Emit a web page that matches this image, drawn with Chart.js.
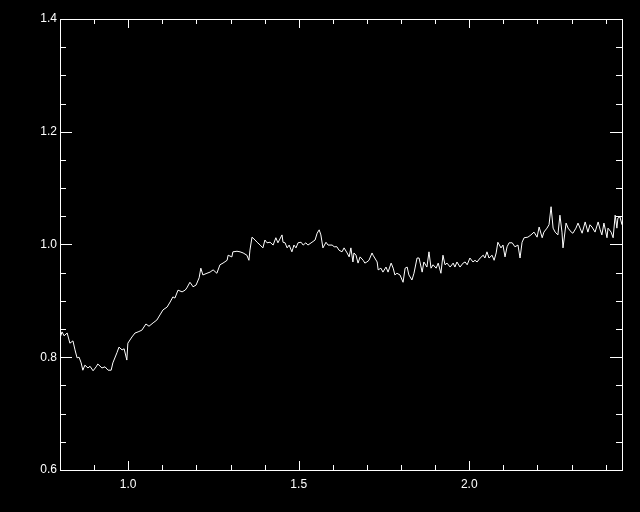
<!DOCTYPE html>
<html>
<head>
<meta charset="utf-8">
<script src="https://cdn.jsdelivr.net/npm/chart.js@4/dist/chart.umd.min.js"></script>
<style>
  html, body { margin: 0; padding: 0; background: #000; }
  canvas { display: block; background: #000; }
</style>
</head>
<body>
<canvas id="chart" width="640" height="512"></canvas>
<script>
// spectrum
const wavelength = [
  0.800, 0.806, 0.812, 0.821, 0.829, 0.838, 0.844, 0.850, 0.856, 0.862,
  0.867, 0.873, 0.882, 0.888, 0.897, 0.906, 0.911, 0.923, 0.932, 0.941,
  0.950, 0.955, 0.967, 0.973, 0.982, 0.988, 0.996, 0.999, 1.011, 1.020,
  1.029, 1.040, 1.052, 1.061, 1.073, 1.084, 1.093, 1.102, 1.114, 1.123,
  1.131, 1.137, 1.146, 1.158, 1.167, 1.172, 1.181, 1.187, 1.190, 1.199,
  1.208, 1.213, 1.219, 1.231, 1.240, 1.249, 1.260, 1.269, 1.278, 1.290,
  1.293, 1.304, 1.307, 1.319, 1.328, 1.337, 1.348, 1.354, 1.357, 1.363,
  1.372, 1.378, 1.387, 1.395, 1.401, 1.407, 1.416, 1.425, 1.433, 1.439,
  1.451, 1.454, 1.460, 1.466,
  1.472, 1.480, 1.486, 1.492, 1.498, 1.507, 1.513, 1.521, 1.527, 1.539,
  1.548, 1.554, 1.560, 1.565, 1.571, 1.580, 1.586, 1.598, 1.604, 1.612,
  1.618, 1.627, 1.633, 1.642, 1.648, 1.653, 1.659, 1.662, 1.668, 1.674,
  1.680, 1.689, 1.694, 1.700, 1.706, 1.715, 1.718, 1.730, 1.733, 1.741,
  1.747, 1.756, 1.762, 1.771, 1.777, 1.782, 1.788, 1.797,
  1.806, 1.812, 1.818, 1.823, 1.832, 1.838, 1.847, 1.853, 1.862, 1.867,
  1.876, 1.882, 1.888, 1.894, 1.903, 1.909, 1.917, 1.923, 1.929, 1.935,
  1.944, 1.953, 1.958, 1.964, 1.973, 1.982, 1.988, 1.994, 2.002, 2.011,
  2.017, 2.023, 2.032, 2.041, 2.046, 2.052, 2.058, 2.067, 2.073, 2.079,
  2.084, 2.093, 2.099, 2.105, 2.111,
  2.117, 2.126, 2.134, 2.143, 2.149, 2.155, 2.161, 2.172, 2.181, 2.190,
  2.199, 2.205, 2.214, 2.219, 2.228, 2.234, 2.240, 2.246, 2.252, 2.260,
  2.266, 2.272, 2.275, 2.284, 2.290, 2.299, 2.304, 2.313, 2.319, 2.325,
  2.331, 2.340, 2.348, 2.354, 2.360, 2.369, 2.378, 2.384, 2.389, 2.395,
  2.404, 2.407, 2.416, 2.422, 2.428, 2.433, 2.436, 2.442, 2.448, 2.454
];

const flux = [
  0.834, 0.845, 0.838, 0.843, 0.825, 0.829, 0.813, 0.799, 0.800, 0.790,
  0.777, 0.786, 0.781, 0.784, 0.776, 0.783, 0.788, 0.781, 0.783, 0.777,
  0.777, 0.790, 0.808, 0.818, 0.813, 0.815, 0.795, 0.825, 0.836, 0.843,
  0.845, 0.848, 0.859, 0.855, 0.861, 0.866, 0.875, 0.884, 0.889, 0.898,
  0.907, 0.905, 0.919, 0.916, 0.919, 0.923, 0.933, 0.928, 0.925, 0.928,
  0.941, 0.958, 0.946, 0.949, 0.951, 0.955, 0.949, 0.964, 0.967, 0.972,
  0.981, 0.978, 0.987, 0.988, 0.987, 0.985, 0.981, 0.972, 0.990, 1.013,
  1.008, 1.004, 0.999, 0.994, 1.008, 1.003, 1.004, 0.999, 1.012, 1.003,
  1.017, 1.004, 1.003, 0.994,
  0.999, 0.987, 0.999, 0.994, 1.003, 1.004, 0.999, 1.003, 0.999, 1.004,
  1.008, 1.020, 1.026, 1.017, 0.994, 1.004, 0.999, 0.999, 0.996, 0.996,
  0.990, 0.987, 0.994, 0.985, 0.978, 0.994, 0.969, 0.985, 0.981, 0.967,
  0.978, 0.972, 0.967, 0.969, 0.972, 0.985, 0.981, 0.969, 0.955, 0.958,
  0.951, 0.960, 0.951, 0.967, 0.958, 0.946, 0.949, 0.946,
  0.933, 0.958, 0.960, 0.946, 0.937, 0.949, 0.976, 0.976, 0.951, 0.969,
  0.960, 0.987, 0.958, 0.964, 0.958, 0.967, 0.949, 0.981, 0.964, 0.967,
  0.960, 0.967, 0.960, 0.969, 0.960, 0.967, 0.969, 0.964, 0.976, 0.969,
  0.972, 0.969, 0.976, 0.981, 0.976, 0.987, 0.976, 0.981, 0.972, 0.985,
  1.004, 0.994, 0.999, 0.978, 0.996,
  1.003, 1.003, 0.996, 0.999, 0.976, 1.004, 1.012, 1.013, 1.017, 1.022,
  1.013, 1.031, 1.012, 1.022, 1.029, 1.035, 1.067, 1.029, 1.022, 1.017,
  1.052, 1.022, 0.994, 1.038, 1.029, 1.022, 1.020, 1.029, 1.038, 1.029,
  1.020, 1.040, 1.022, 1.035, 1.031, 1.022, 1.040, 1.026, 1.017, 1.038,
  1.012, 1.029, 1.022, 1.012, 1.052, 1.029, 1.047, 1.049, 1.035, 1.047
];

const xTicks = [1.0, 1.5, 2.0];
const yTicks = [0.6, 0.8, 1.0, 1.2, 1.4];
const xRange = [0.8, 2.448];
const yRange = [0.6, 1.4];
const xMinorStep = 0.1;
const yMinorStep = 0.05;

Chart.defaults.font.family = "'Liberation Sans', Arial, sans-serif";
Chart.defaults.font.size = 12;
Chart.defaults.color = "#ffffff";

// IDL style box with ticks on all four sides
const frame = {
  id: "frame",
  afterDraw(chart) {
    const { ctx, chartArea: a, scales: { x, y } } = chart;
    ctx.save();
    ctx.strokeStyle = "#ffffff";
    ctx.lineWidth = 1;
    ctx.strokeRect(a.left + 0.5, a.top + 0.5, a.right - a.left, a.bottom - a.top);

    ctx.beginPath();
    const nx = Math.round((xRange[1] - xRange[0]) / xMinorStep);
    for (let i = 1; i <= nx; i++) {
      const v = Math.round((xRange[0] + i * xMinorStep) * 10) / 10;
      if (v >= xRange[1]) break;
      const major = xTicks.some((t) => Math.abs(t - v) < 1e-6);
      const len = major ? 9 : 5;
      const px = Math.round(x.getPixelForValue(v)) + 0.5;
      ctx.moveTo(px, a.bottom);
      ctx.lineTo(px, a.bottom - len);
      ctx.moveTo(px, a.top);
      ctx.lineTo(px, a.top + len);
    }
    const ny = Math.round((yRange[1] - yRange[0]) / yMinorStep);
    for (let i = 1; i < ny; i++) {
      const v = Math.round((yRange[0] + i * yMinorStep) * 100) / 100;
      const major = yTicks.some((t) => Math.abs(t - v) < 1e-6);
      const len = major ? 12 : 6;
      const py = Math.round(y.getPixelForValue(v)) + 0.5;
      ctx.moveTo(a.left, py);
      ctx.lineTo(a.left + len, py);
      ctx.moveTo(a.right, py);
      ctx.lineTo(a.right - len, py);
    }
    ctx.stroke();
    ctx.restore();
  },
};

new Chart(document.getElementById("chart"), {
  type: "line",
  data: {
    datasets: [
      {
        data: wavelength.map((w, i) => ({ x: w, y: flux[i] })),
        borderColor: "#ffffff",
        borderWidth: 1,
        pointRadius: 0,
        tension: 0,
        fill: false,
      },
    ],
  },
  options: {
    responsive: false,
    animation: false,
    devicePixelRatio: 1,
    layout: { padding: { left: 0, top: 19, right: 18, bottom: 0 } },
    plugins: { legend: { display: false }, tooltip: { enabled: false } },
    scales: {
      x: {
        type: "linear",
        min: xRange[0],
        max: xRange[1],
        afterBuildTicks: (scale) => {
          scale.ticks = xTicks.map((v) => ({ value: v }));
        },
        afterFit: (scale) => {
          scale.height = 42;
        },
        grid: { display: false, drawTicks: false },
        border: { display: false },
        ticks: {
          padding: 7,
          maxRotation: 0,
          autoSkip: false,
          callback: (v) => Number(v).toFixed(1),
        },
      },
      y: {
        type: "linear",
        min: yRange[0],
        max: yRange[1],
        afterBuildTicks: (scale) => {
          scale.ticks = yTicks.map((v) => ({ value: v }));
        },
        afterFit: (scale) => {
          scale.width = 60;
        },
        grid: { display: false, drawTicks: false },
        border: { display: false },
        ticks: {
          padding: 3,
          autoSkip: false,
          callback: (v) => Number(v).toFixed(1),
        },
      },
    },
  },
  plugins: [frame],
});
</script>
</body>
</html>
